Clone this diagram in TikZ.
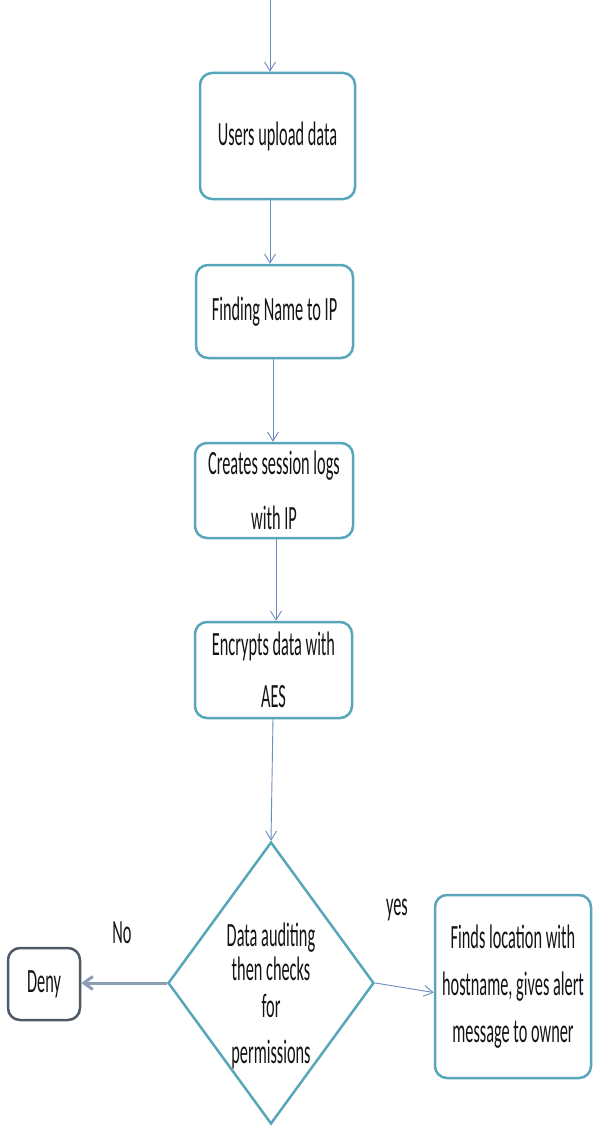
\documentclass[tikz,border=0pt]{standalone}
\usepackage{fontspec}
\setmainfont{Carlito}[FakeStretch=0.48]
\usetikzlibrary{arrows.meta, shapes.geometric}
\definecolor{boxc}{RGB}{88,166,186}
\definecolor{arrc}{RGB}{108,138,196}
\definecolor{denyarr}{RGB}{140,157,181}
\definecolor{denyc}{RGB}{78,90,102}
\definecolor{txt}{RGB}{20,20,20}
\tikzset{
  procbox/.style={draw=boxc, line width=2.5pt, rounded corners=12pt, fill=white, align=center,
    inner sep=0pt, text=txt, font=\fontsize{34}{50}\selectfont},
  flow/.style={draw=arrc, line width=0.9pt, -{Straight Barb[length=9pt,width=11pt]}},
  lbl/.style={text=txt, font=\fontsize{34}{36}\selectfont, inner sep=0pt}
}
\begin{document}
\begin{tikzpicture}[x=1pt,y=1pt]
\useasboundingbox (0,0) rectangle (593,-1126);
\node[procbox, minimum width=155pt, minimum height=126pt] (b1) at (277.5,-136) {Users upload data};
\node[procbox, minimum width=157pt, minimum height=93pt] (b2) at (274.5,-311.5) {Finding Name to IP};
\node[procbox, minimum width=158pt, minimum height=95pt, font=\fontsize{34}{55}\selectfont] (b3) at (274,-490.5) {Creates session logs\\with IP};
\node[procbox, minimum width=157pt, minimum height=96pt, font=\fontsize{34}{52}\selectfont] (b4) at (273.5,-670) {Encrypts data with\\AES};
\node[draw=boxc, line width=2.5pt, shape=diamond, minimum width=206pt, minimum height=282pt, inner sep=0pt, fill=white] (dia) at (271,-983) {};
\node[lbl, align=center] (diatxt) at (271,-996) {Data auditing\\[-2pt]then checks\\[1pt]for\\[10pt]permissions};
\node[procbox, draw=denyc, minimum width=72pt, minimum height=72pt] (deny) at (44,-984) {Deny};
\node[procbox, minimum width=156pt, minimum height=183pt, font=\fontsize{34}{47}\selectfont] (fin) at (513,-986.5) {Finds location with\\hostname, gives alert\\message to owner};
\node[lbl] (no) at (122,-933) {No};
\node[lbl] (yes) at (397,-910) {yes};
\coordinate (top) at (270,0);
\draw[flow] (top) -- (top |- b1.north);
\draw[flow] (270,-199) coordinate (s1) -- (s1 |- b2.north);
\draw[flow] (273,-358) coordinate (s2) -- (s2 |- b3.north);
\draw[flow] (276,-538) coordinate (s3) -- (s3 |- b4.north);
\draw[flow] (273,-718) coordinate (s4) -- (dia.north);
\draw[draw=denyarr, line width=3pt, -{Straight Barb[length=9pt,width=13pt]}] (dia.west) -- (deny.east |- dia.west);
\draw[flow] (dia.east) -- ([yshift=-6pt]fin.west);
\end{tikzpicture}
\end{document}
